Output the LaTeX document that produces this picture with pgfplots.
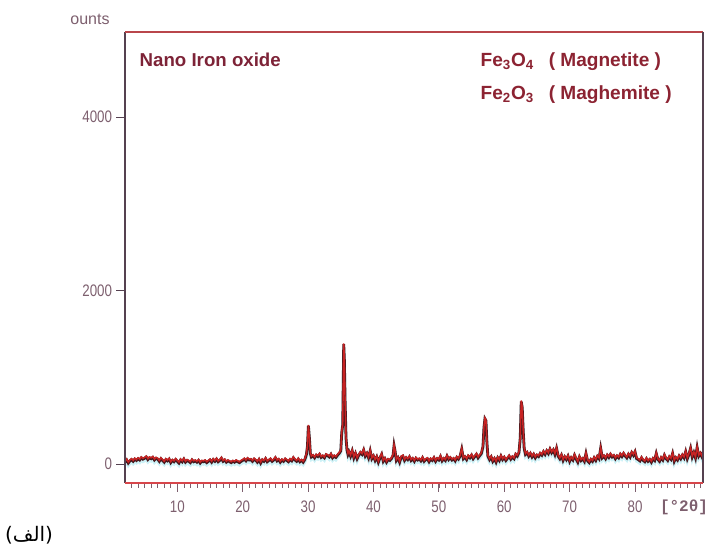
\documentclass[border=0pt]{standalone}
\usepackage{fontspec}
\setmainfont{Liberation Sans}
\newfontfamily\narrowfont{Liberation Sans}[FakeStretch=0.8]
\newfontfamily\arabicfont[Script=Arabic]{DejaVu Sans}
\newfontfamily\monofont{Liberation Mono}
\TeXXeTstate=1
\usepackage{pgfplots}
\usepackage{pgfplotstable}
\pgfplotsset{compat=1.18}

\definecolor{frameL}{RGB}{85,65,80}
\definecolor{frameT}{RGB}{185,70,75}
\definecolor{frameB}{RGB}{215,70,75}
\definecolor{ticklab}{RGB}{125,95,110}
\definecolor{titlec}{RGB}{125,35,55}
\definecolor{legc}{RGB}{140,35,50}
\definecolor{darkl}{RGB}{70,25,30}
\definecolor{redl}{RGB}{200,35,35}
\definecolor{glow}{RGB}{205,242,247}

\pgfplotstableread[row sep=\\]{
x y\\
2.00 20\\ 2.25 45\\ 2.50 10\\ 2.75 35\\ 3.00 50\\ 3.25 30\\ 3.50 55\\ 3.75 40\\
4.00 60\\ 4.25 45\\ 4.50 70\\ 4.75 55\\ 5.00 65\\ 5.25 80\\ 5.50 50\\ 5.75 70\\
6.00 60\\ 6.25 75\\ 6.50 45\\ 6.75 65\\ 7.00 55\\ 7.25 30\\ 7.50 60\\ 7.75 40\\
8.00 20\\ 8.25 50\\ 8.50 35\\ 8.75 55\\ 9.00 15\\ 9.25 40\\ 9.50 25\\ 9.75 50\\
10.00 30\\ 10.25 10\\ 10.50 45\\ 10.75 25\\ 11.00 55\\ 11.25 20\\ 11.50 40\\ 11.75 30\\
12.00 15\\ 12.25 45\\ 12.50 25\\ 12.75 35\\ 13.00 20\\ 13.25 40\\ 13.50 10\\ 13.75 30\\
14.00 25\\ 14.25 35\\ 14.50 15\\ 14.75 30\\ 15.00 45\\ 15.25 20\\ 15.50 50\\ 15.75 30\\
16.00 55\\ 16.25 25\\ 16.50 40\\ 16.75 65\\ 17.00 30\\ 17.25 45\\ 17.50 20\\ 17.75 35\\
18.00 25\\ 18.25 15\\ 18.50 30\\ 18.75 20\\ 19.00 35\\ 19.25 25\\ 19.50 15\\ 19.75 30\\
20.00 40\\ 20.25 55\\ 20.50 35\\ 20.75 60\\ 21.00 45\\ 21.25 50\\ 21.50 30\\ 21.75 55\\
22.00 40\\ 22.25 20\\ 22.50 50\\ 22.75 10\\ 23.00 45\\ 23.25 30\\ 23.50 60\\ 23.75 25\\
24.00 40\\ 24.25 55\\ 24.50 30\\ 24.75 45\\ 25.00 70\\ 25.25 35\\ 25.50 50\\ 25.75 20\\
26.00 45\\ 26.25 30\\ 26.50 55\\ 26.75 40\\ 27.00 25\\ 27.25 50\\ 27.50 35\\ 27.75 70\\
28.00 45\\ 28.25 30\\ 28.50 55\\ 28.75 25\\ 29.00 40\\ 29.25 20\\ 29.50 50\\ 29.75 110\\
29.90 200\\ 30.05 440\\ 30.20 300\\ 30.35 120\\ 30.50 80\\ 30.75 95\\ 31.00 70\\ 31.25 100\\
31.50 85\\ 31.75 110\\ 32.00 75\\ 32.25 90\\ 32.50 70\\ 32.75 105\\ 33.00 95\\ 33.25 80\\
33.50 110\\ 33.75 70\\ 34.00 90\\ 34.25 75\\ 34.50 100\\ 34.75 120\\ 35.00 150\\ 35.15 360\\
35.30 450\\ 35.45 1380\\ 35.55 1200\\ 35.65 760\\ 35.80 300\\ 35.95 160\\ 36.10 110\\ 36.25 140\\
36.50 90\\ 36.75 150\\ 37.00 70\\ 37.25 120\\ 37.50 60\\ 37.75 100\\ 38.00 130\\ 38.25 110\\
38.50 160\\ 38.75 90\\ 39.00 120\\ 39.25 70\\ 39.50 150\\ 39.75 60\\ 40.00 90\\ 40.25 40\\
40.50 80\\ 40.75 20\\ 41.00 70\\ 41.25 110\\ 41.50 30\\ 41.75 60\\ 42.00 20\\ 42.25 50\\
42.50 40\\ 42.75 60\\ 43.00 100\\ 43.15 210\\ 43.30 150\\ 43.50 40\\ 43.75 70\\ 44.00 20\\
44.25 80\\ 44.50 90\\ 44.75 40\\ 45.00 70\\ 45.25 50\\ 45.50 80\\ 45.75 40\\ 46.00 60\\
46.25 30\\ 46.50 65\\ 46.75 45\\ 47.00 55\\ 47.25 35\\ 47.50 70\\ 47.75 30\\ 48.00 50\\
48.25 60\\ 48.50 25\\ 48.75 55\\ 49.00 40\\ 49.25 70\\ 49.50 30\\ 49.75 60\\ 50.00 45\\
50.25 85\\ 50.50 35\\ 50.75 60\\ 51.00 40\\ 51.25 90\\ 51.50 50\\ 51.75 70\\ 52.00 45\\
52.25 60\\ 52.50 35\\ 52.75 75\\ 53.00 55\\ 53.25 90\\ 53.50 170\\ 53.75 60\\ 54.00 80\\
54.25 50\\ 54.50 90\\ 54.75 70\\ 55.00 100\\ 55.25 60\\ 55.50 85\\ 55.75 110\\ 56.00 70\\
56.25 95\\ 56.50 120\\ 56.75 200\\ 56.90 420\\ 57.05 520\\ 57.20 500\\ 57.35 250\\ 57.50 90\\
57.75 50\\ 58.00 80\\ 58.25 30\\ 58.50 60\\ 58.75 20\\ 59.00 70\\ 59.25 40\\ 59.50 90\\
59.75 50\\ 60.00 75\\ 60.25 40\\ 60.50 65\\ 60.75 90\\ 61.00 55\\ 61.25 80\\ 61.50 60\\
61.75 110\\ 62.00 90\\ 62.25 130\\ 62.45 300\\ 62.60 720\\ 62.75 650\\ 62.90 380\\ 63.05 180\\
63.25 110\\ 63.50 130\\ 63.75 90\\ 64.00 120\\ 64.25 80\\ 64.50 110\\ 64.75 70\\ 65.00 100\\
65.25 85\\ 65.50 120\\ 65.75 100\\ 66.00 140\\ 66.25 110\\ 66.50 150\\ 66.75 120\\ 67.00 170\\
67.25 130\\ 67.50 160\\ 67.75 110\\ 68.00 180\\ 68.25 90\\ 68.50 60\\ 68.75 100\\ 69.00 40\\
69.25 80\\ 69.50 50\\ 69.75 90\\ 70.00 30\\ 70.25 70\\ 70.50 45\\ 70.75 100\\ 71.00 55\\
71.25 20\\ 71.50 80\\ 71.75 40\\ 72.00 60\\ 72.25 30\\ 72.50 120\\ 72.75 35\\ 73.00 15\\
73.25 50\\ 73.50 30\\ 73.75 70\\ 74.00 40\\ 74.25 85\\ 74.50 60\\ 74.75 180\\ 75.00 70\\
75.25 90\\ 75.50 60\\ 75.75 100\\ 76.00 75\\ 76.25 110\\ 76.50 80\\ 76.75 95\\ 77.00 60\\
77.25 90\\ 77.50 70\\ 77.75 110\\ 78.00 85\\ 78.25 120\\ 78.50 90\\ 78.75 70\\ 79.00 110\\
79.25 80\\ 79.50 130\\ 79.75 100\\ 80.00 140\\ 80.25 60\\ 80.50 50\\ 80.75 35\\ 81.00 70\\
81.25 40\\ 81.50 25\\ 81.75 60\\ 82.00 30\\ 82.25 50\\ 82.50 20\\ 82.75 60\\ 83.00 40\\
83.25 120\\ 83.50 50\\ 83.75 30\\ 84.00 70\\ 84.25 45\\ 84.50 100\\ 84.75 60\\ 85.00 40\\
85.25 80\\ 85.50 55\\ 85.75 120\\ 86.00 30\\ 86.25 70\\ 86.50 45\\ 86.75 90\\ 87.00 60\\
87.25 100\\ 87.50 70\\ 87.75 140\\ 88.00 60\\ 88.25 110\\ 88.50 180\\ 88.75 80\\ 89.00 130\\
89.25 70\\ 89.50 190\\ 89.75 90\\ 90.00 120\\ 90.25 80\\ 90.40 140\\
}\xrd

\begin{document}
\begin{tikzpicture}[x=1pt,y=1pt]
\useasboundingbox (0,0) rectangle (531.75,410.25);
\begin{axis}[
  at={(93.75pt,48pt)}, anchor=south west,
  scale only axis, width=433.5pt, height=338.25pt,
  xmin=2, xmax=90.4, ymin=-220, ymax=4980,
  axis line style={draw=none},
  xtick={10,20,...,80}, ytick={0,2000,4000},
  minor xtick={3,4,...,90},
  tick pos=left, tick align=outside,
  major tick length=6.5pt, minor tick length=3.5pt,
  x tick style={color=ticklab, line width=0.6pt},
  minor x tick style={color=ticklab, line width=0.5pt},
  y tick style={draw=none},
  /pgf/number format/assume math mode=true,
  /pgf/number format/set thousands separator={},
  tick label style={font=\narrowfont\fontsize{12.5}{14}\selectfont, text=ticklab},
  xticklabel style={anchor=center, inner sep=0pt, yshift=-11.5pt},
  yticklabel style={anchor=east, inner sep=0pt, xshift=-3pt},
  clip mode=individual,
]
\addplot[glow, line width=2.4pt, yshift=-1.8pt] table[x=x,y=y] {\xrd};
\addplot[darkl, line width=2.1pt] table[x=x,y=y] {\xrd};
\addplot[redl, line width=1.1pt, yshift=0.7pt] table[x=x,y=y] {\xrd};
\draw[frameL, line width=0.6pt] (axis cs:2,0) -- ++(-7pt,0pt);
\draw[frameL, line width=0.6pt] (axis cs:2,2000) -- ++(-7pt,0pt);
\draw[frameL, line width=0.6pt] (axis cs:2,4000) -- ++(-7pt,0pt);
\draw[frameL, line width=1.2pt] (rel axis cs:0,0) -- (rel axis cs:0,1);
\draw[frameT, line width=1.2pt] (rel axis cs:0,1) -- (rel axis cs:1,1);
\draw[frameL, line width=1.2pt] (rel axis cs:1,1) -- (rel axis cs:1,0);
\draw[frameB, line width=1.2pt] (rel axis cs:0,0) -- (rel axis cs:1,0);
\end{axis}
\node[font=\fontsize{12}{14}\selectfont, text=ticklab] at (67.5,396) {ounts};
\node[anchor=west, font=\bfseries\fontsize{14}{16}\selectfont, text=titlec] at (101.25,365.25) {Nano Iron oxide};
\node[anchor=west, font=\bfseries\fontsize{14.3}{16}\selectfont, text=legc] at (357,363.9) {Fe\textsubscript{3}O\textsubscript{4}\enspace\ ( Magnetite )};
\node[anchor=west, font=\bfseries\fontsize{14.3}{16}\selectfont, text=legc] at (357,339) {Fe\textsubscript{2}O\textsubscript{3}\enspace\ ( Maghemite )};
\node[font=\monofont\bfseries\fontsize{12}{14}\selectfont, text=ticklab] at (513,30) {[°2θ]};
\node[font=\arabicfont\fontsize{15}{17}\selectfont, text=black] at (21.75,9) {\beginR(الف)\endR};
\end{tikzpicture}
\end{document}
